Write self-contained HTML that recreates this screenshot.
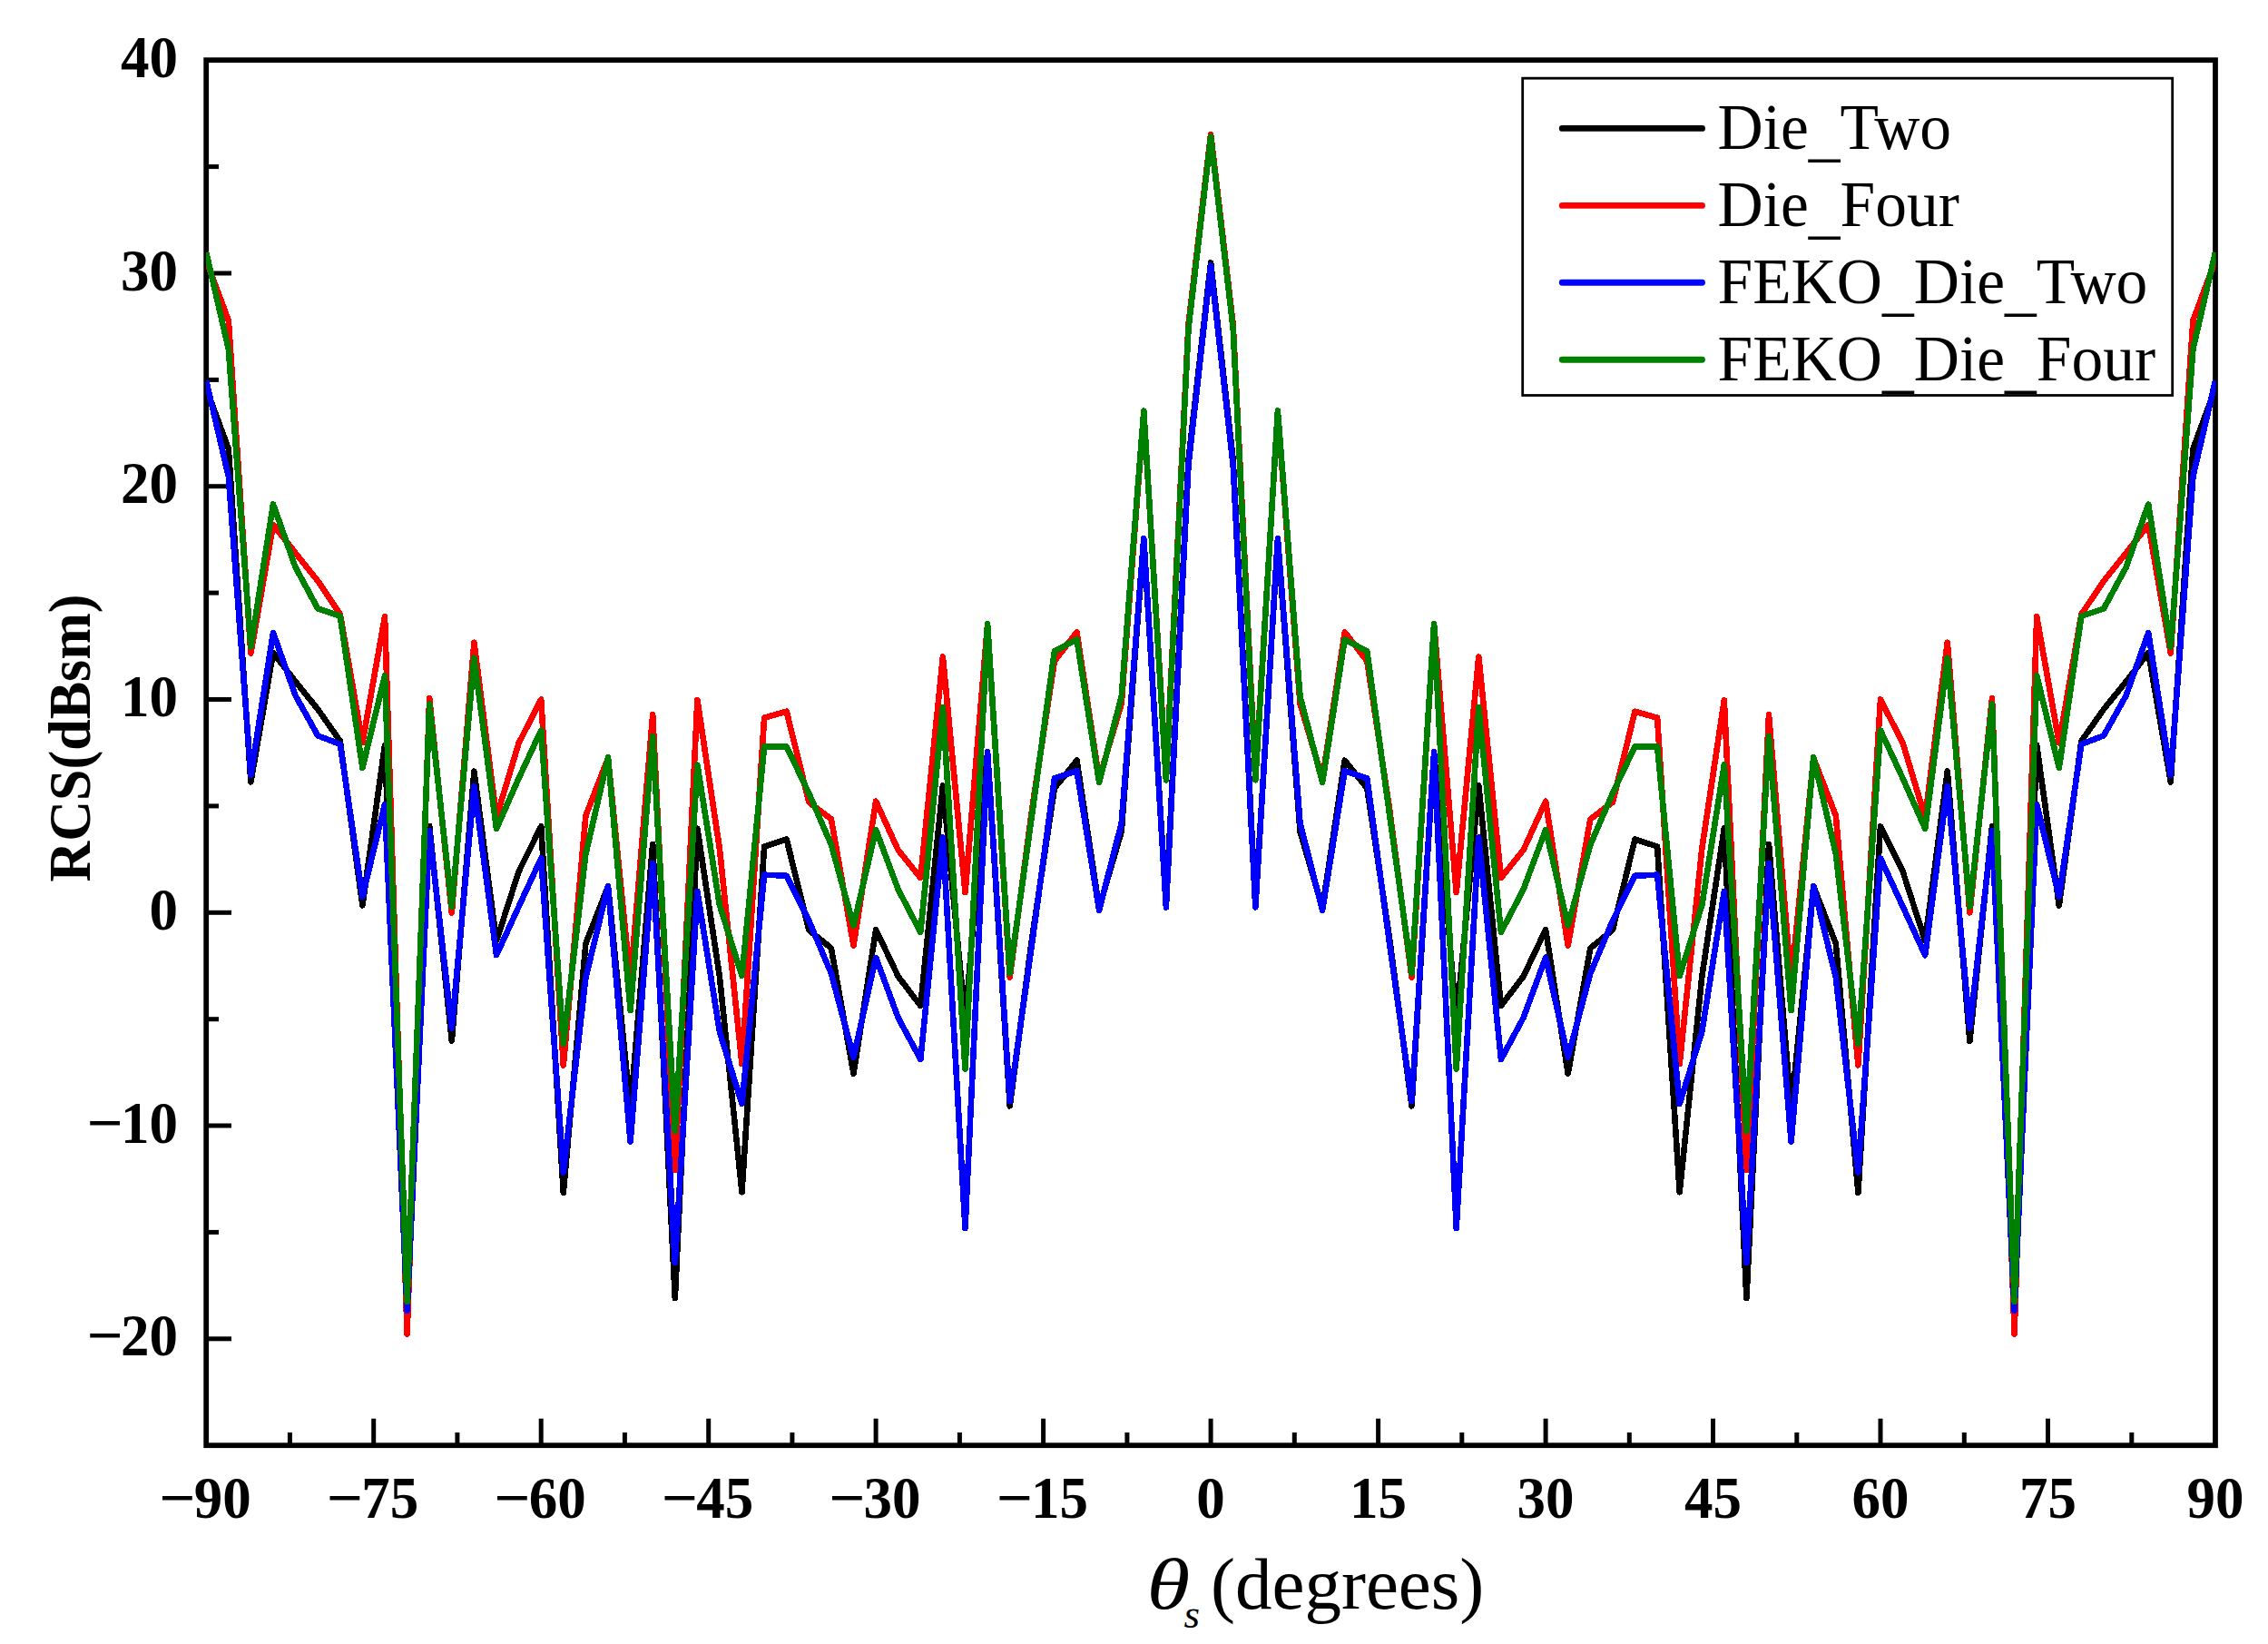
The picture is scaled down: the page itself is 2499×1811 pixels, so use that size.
<!DOCTYPE html>
<html lang="en"><head><meta charset="utf-8"><title>RCS comparison</title>
<style>html,body{margin:0;padding:0;background:#fff}svg{display:block}text{font-family:"Liberation Serif","Times New Roman",serif;fill:#000}</style></head>
<body>
<svg width="2499" height="1811" viewBox="0 0 2499 1811">
<rect x="0" y="0" width="2499" height="1811" fill="#ffffff"/>
<rect x="227.2" y="66.2" width="2213.8" height="1526.0" fill="none" stroke="#000" stroke-width="5.8"/>
<g stroke="#000" stroke-width="5.0" fill="none">
<line x1="319.4" y1="1592.2" x2="319.4" y2="1578.0"/>
<line x1="411.7" y1="1592.2" x2="411.7" y2="1562.7"/>
<line x1="503.9" y1="1592.2" x2="503.9" y2="1578.0"/>
<line x1="596.2" y1="1592.2" x2="596.2" y2="1562.7"/>
<line x1="688.4" y1="1592.2" x2="688.4" y2="1578.0"/>
<line x1="780.7" y1="1592.2" x2="780.7" y2="1562.7"/>
<line x1="872.9" y1="1592.2" x2="872.9" y2="1578.0"/>
<line x1="965.1" y1="1592.2" x2="965.1" y2="1562.7"/>
<line x1="1057.4" y1="1592.2" x2="1057.4" y2="1578.0"/>
<line x1="1149.6" y1="1592.2" x2="1149.6" y2="1562.7"/>
<line x1="1241.9" y1="1592.2" x2="1241.9" y2="1578.0"/>
<line x1="1334.1" y1="1592.2" x2="1334.1" y2="1562.7"/>
<line x1="1426.3" y1="1592.2" x2="1426.3" y2="1578.0"/>
<line x1="1518.6" y1="1592.2" x2="1518.6" y2="1562.7"/>
<line x1="1610.8" y1="1592.2" x2="1610.8" y2="1578.0"/>
<line x1="1703.1" y1="1592.2" x2="1703.1" y2="1562.7"/>
<line x1="1795.3" y1="1592.2" x2="1795.3" y2="1578.0"/>
<line x1="1887.5" y1="1592.2" x2="1887.5" y2="1562.7"/>
<line x1="1979.8" y1="1592.2" x2="1979.8" y2="1578.0"/>
<line x1="2072.0" y1="1592.2" x2="2072.0" y2="1562.7"/>
<line x1="2164.3" y1="1592.2" x2="2164.3" y2="1578.0"/>
<line x1="2256.5" y1="1592.2" x2="2256.5" y2="1562.7"/>
<line x1="2348.8" y1="1592.2" x2="2348.8" y2="1578.0"/>
<line x1="227.2" y1="1474.8" x2="255" y2="1474.8"/>
<line x1="227.2" y1="1357.4" x2="241" y2="1357.4"/>
<line x1="227.2" y1="1240.0" x2="255" y2="1240.0"/>
<line x1="227.2" y1="1122.7" x2="241" y2="1122.7"/>
<line x1="227.2" y1="1005.3" x2="255" y2="1005.3"/>
<line x1="227.2" y1="887.9" x2="241" y2="887.9"/>
<line x1="227.2" y1="770.5" x2="255" y2="770.5"/>
<line x1="227.2" y1="653.1" x2="241" y2="653.1"/>
<line x1="227.2" y1="535.7" x2="255" y2="535.7"/>
<line x1="227.2" y1="418.4" x2="241" y2="418.4"/>
<line x1="227.2" y1="301.0" x2="255" y2="301.0"/>
<line x1="227.2" y1="183.6" x2="241" y2="183.6"/>
</g>
<defs><clipPath id="pc"><rect x="226.9" y="60" width="2214.7" height="1535"/></clipPath></defs>
<g fill="none" stroke-width="6.6" stroke-linejoin="round" stroke-linecap="butt" clip-path="url(#pc)" shape-rendering="crispEdges">
<polyline stroke="#000000" points="227.2,427.7 251.8,494.4 276.4,861.4 301.0,719.1 325.6,750.8 350.2,781.3 374.8,816.3 399.4,997.5 424.0,821.0 448.6,1438.0 473.2,910.0 497.8,1146.8 522.4,849.6 547.0,1036.5 571.6,960.0 596.2,910.4 620.8,1313.8 645.4,1039.3 670.0,976.4 694.6,1222.0 719.2,929.9 743.8,1430.2 768.4,912.5 792.9,1075.7 817.5,1313.3 842.1,932.5 866.7,924.5 891.3,1024.5 915.9,1044.5 940.5,1182.8 965.1,1024.1 989.7,1075.7 1014.3,1107.9 1038.9,865.4 1063.5,1124.8 1088.1,829.0 1112.7,1218.4 1137.3,1032.3 1161.9,868.2 1186.5,837.7 1211.1,1000.1 1235.7,916.1 1260.3,594.9 1284.9,996.6 1309.5,506.4 1334.1,289.5 1358.7,506.4 1383.3,996.6 1407.9,594.9 1432.5,916.1 1457.1,1000.1 1481.7,837.7 1506.3,868.2 1530.9,1032.3 1555.5,1218.4 1580.1,829.0 1604.7,1124.8 1629.3,865.4 1653.9,1107.9 1678.5,1075.7 1703.1,1024.1 1727.7,1182.8 1752.3,1044.5 1776.9,1024.5 1801.5,924.5 1826.1,932.5 1850.7,1313.3 1875.3,1075.7 1899.8,912.5 1924.4,1430.2 1949.0,929.9 1973.6,1222.0 1998.2,976.4 2022.8,1039.3 2047.4,1313.8 2072.0,910.4 2096.6,960.0 2121.2,1036.5 2145.8,849.6 2170.4,1146.8 2195.0,910.0 2219.6,1438.0 2244.2,821.0 2268.8,997.5 2293.4,816.3 2318.0,781.3 2342.6,750.8 2367.2,719.1 2391.8,861.4 2416.4,494.4 2441.0,427.7"/>
<polyline stroke="#ff0000" points="227.2,286.9 251.8,353.1 276.4,719.6 301.0,578.0 325.6,609.2 350.2,640.0 374.8,676.6 399.4,818.2 424.0,679.2 448.6,1469.7 473.2,769.3 497.8,1005.5 522.4,707.8 547.0,900.3 571.6,818.6 596.2,770.5 620.8,1173.4 645.4,898.5 670.0,835.1 694.6,1081.1 719.2,787.4 743.8,1288.9 768.4,771.2 792.9,934.8 817.5,1172.2 842.1,790.7 866.7,783.7 891.3,883.7 915.9,902.4 940.5,1041.7 965.1,882.7 989.7,936.5 1014.3,967.0 1038.9,723.6 1063.5,983.0 1088.1,687.6 1112.7,1076.6 1137.3,890.2 1161.9,728.2 1186.5,696.3 1211.1,858.1 1235.7,775.2 1260.3,454.0 1284.9,855.7 1309.5,357.3 1334.1,148.1 1358.7,357.3 1383.3,855.7 1407.9,454.0 1432.5,775.2 1457.1,858.1 1481.7,696.3 1506.3,728.2 1530.9,890.2 1555.5,1076.6 1580.1,687.6 1604.7,983.0 1629.3,723.6 1653.9,967.0 1678.5,936.5 1703.1,882.7 1727.7,1041.7 1752.3,902.4 1776.9,883.7 1801.5,783.7 1826.1,790.7 1850.7,1172.2 1875.3,934.8 1899.8,771.2 1924.4,1288.9 1949.0,787.4 1973.6,1081.1 1998.2,835.1 2022.8,898.5 2047.4,1173.4 2072.0,770.5 2096.6,818.6 2121.2,900.3 2145.8,707.8 2170.4,1005.5 2195.0,769.3 2219.6,1469.7 2244.2,679.2 2268.8,818.2 2293.4,676.6 2318.0,640.0 2342.6,609.2 2367.2,578.0 2391.8,719.6 2416.4,353.1 2441.0,286.9"/>
<polyline stroke="#0000ff" points="227.2,419.5 251.8,524.9 276.4,853.9 301.0,697.0 325.6,766.3 350.2,810.4 374.8,819.8 399.4,987.7 424.0,886.0 448.6,1443.8 473.2,915.4 497.8,1132.5 522.4,866.1 547.0,1052.2 571.6,998.7 596.2,945.4 620.8,1291.5 645.4,1076.9 670.0,975.9 694.6,1257.7 719.2,951.3 743.8,1391.2 768.4,982.0 792.9,1136.7 817.5,1215.9 842.1,963.7 866.7,964.7 891.3,1014.2 915.9,1072.4 940.5,1164.7 965.1,1054.8 989.7,1121.3 1014.3,1167.0 1038.9,922.6 1063.5,1353.0 1088.1,828.3 1112.7,1213.3 1137.3,1038.1 1161.9,857.4 1186.5,849.2 1211.1,1002.7 1235.7,906.7 1260.3,593.3 1284.9,999.4 1309.5,512.3 1334.1,292.5 1358.7,512.3 1383.3,999.4 1407.9,593.3 1432.5,906.7 1457.1,1002.7 1481.7,849.2 1506.3,857.4 1530.9,1038.1 1555.5,1213.3 1580.1,828.3 1604.7,1353.0 1629.3,922.6 1653.9,1167.0 1678.5,1121.3 1703.1,1054.8 1727.7,1164.7 1752.3,1072.4 1776.9,1014.2 1801.5,964.7 1826.1,963.7 1850.7,1215.9 1875.3,1136.7 1899.8,982.0 1924.4,1391.2 1949.0,951.3 1973.6,1257.7 1998.2,975.9 2022.8,1076.9 2047.4,1291.5 2072.0,945.4 2096.6,998.7 2121.2,1052.2 2145.8,866.1 2170.4,1132.5 2195.0,915.4 2219.6,1443.8 2244.2,886.0 2268.8,987.7 2293.4,819.8 2318.0,810.4 2342.6,766.3 2367.2,697.0 2391.8,853.9 2416.4,524.9 2441.0,419.5"/>
<polyline stroke="#008000" points="227.2,278.0 251.8,384.5 276.4,712.5 301.0,555.5 325.6,625.0 350.2,670.5 374.8,678.7 399.4,845.9 424.0,744.2 448.6,1434.0 473.2,775.7 497.8,998.9 522.4,724.7 547.0,912.8 571.6,857.4 596.2,804.5 620.8,1150.1 645.4,940.7 670.0,834.1 694.6,1113.0 719.2,811.1 743.8,1245.9 768.4,842.6 792.9,997.1 817.5,1075.0 842.1,822.4 866.7,822.4 891.3,873.8 915.9,930.6 940.5,1019.6 965.1,914.0 989.7,979.9 1014.3,1026.9 1038.9,779.4 1063.5,1177.6 1088.1,687.2 1112.7,1072.2 1137.3,896.1 1161.9,717.4 1186.5,704.3 1211.1,861.8 1235.7,767.2 1260.3,452.6 1284.9,859.3 1309.5,362.0 1334.1,150.7 1358.7,362.0 1383.3,859.3 1407.9,452.6 1432.5,767.2 1457.1,861.8 1481.7,704.3 1506.3,717.4 1530.9,896.1 1555.5,1072.2 1580.1,687.2 1604.7,1177.6 1629.3,779.4 1653.9,1026.9 1678.5,979.9 1703.1,914.0 1727.7,1019.6 1752.3,930.6 1776.9,873.8 1801.5,822.4 1826.1,822.4 1850.7,1075.0 1875.3,997.1 1899.8,842.6 1924.4,1245.9 1949.0,811.1 1973.6,1113.0 1998.2,834.1 2022.8,940.7 2047.4,1150.1 2072.0,804.5 2096.6,857.4 2121.2,912.8 2145.8,724.7 2170.4,998.9 2195.0,775.7 2219.6,1434.0 2244.2,744.2 2268.8,845.9 2293.4,678.7 2318.0,670.5 2342.6,625.0 2367.2,555.5 2391.8,712.5 2416.4,384.5 2441.0,278.0"/>
</g>
<g font-weight="bold" font-size="63px">
<text transform="translate(175.3,1671.5) scale(1.12,1.045)">−</text>
<text transform="translate(213.7,1671.5) scale(1,1.045)">90</text>
<text transform="translate(359.8,1671.5) scale(1.12,1.045)">−</text>
<text transform="translate(398.2,1671.5) scale(1,1.045)">75</text>
<text transform="translate(544.3,1671.5) scale(1.12,1.045)">−</text>
<text transform="translate(582.7,1671.5) scale(1,1.045)">60</text>
<text transform="translate(728.8,1671.5) scale(1.12,1.045)">−</text>
<text transform="translate(767.2,1671.5) scale(1,1.045)">45</text>
<text transform="translate(913.2,1671.5) scale(1.12,1.045)">−</text>
<text transform="translate(951.6,1671.5) scale(1,1.045)">30</text>
<text transform="translate(1097.7,1671.5) scale(1.12,1.045)">−</text>
<text transform="translate(1136.1,1671.5) scale(1,1.045)">15</text>
<text transform="translate(1334.1,1671.5) scale(1,1.045)" text-anchor="middle">0</text>
<text transform="translate(1518.6,1671.5) scale(1,1.045)" text-anchor="middle">15</text>
<text transform="translate(1703.1,1671.5) scale(1,1.045)" text-anchor="middle">30</text>
<text transform="translate(1887.5,1671.5) scale(1,1.045)" text-anchor="middle">45</text>
<text transform="translate(2072.0,1671.5) scale(1,1.045)" text-anchor="middle">60</text>
<text transform="translate(2256.5,1671.5) scale(1,1.045)" text-anchor="middle">75</text>
<text transform="translate(2441.0,1671.5) scale(1,1.045)" text-anchor="middle">90</text>
<text transform="translate(196,1493.3) scale(1,1.045)" text-anchor="end">20</text>
<text transform="translate(95.6,1493.3) scale(1.12,1.045)">−</text>
<text transform="translate(196,1258.5) scale(1,1.045)" text-anchor="end">10</text>
<text transform="translate(95.6,1258.5) scale(1.12,1.045)">−</text>
<text transform="translate(196,1023.8) scale(1,1.045)" text-anchor="end">0</text>
<text transform="translate(196,789.0) scale(1,1.045)" text-anchor="end">10</text>
<text transform="translate(196,554.2) scale(1,1.045)" text-anchor="end">20</text>
<text transform="translate(196,319.5) scale(1,1.045)" text-anchor="end">30</text>
<text transform="translate(196,84.7) scale(1,1.045)" text-anchor="end">40</text>
</g>
<text transform="translate(98.5,813) rotate(-90) scale(1,1.05)" text-anchor="middle" font-weight="bold" font-size="62px">RCS(dBsm)</text>
<text transform="translate(1263.5,1772.4) scale(1.2,1)" font-size="81px" font-style="italic">θ</text>
<text x="1304.5" y="1793.4" font-size="45px" font-style="italic">s</text>
<text x="1334" y="1772.4" font-size="81px">(degrees)</text>
<rect x="1677.7" y="86.2" width="716" height="349.3" fill="#fff" stroke="#000" stroke-width="2.8"/>
<line x1="1721.3" y1="141.4" x2="1875.5" y2="141.4" stroke="#000000" stroke-width="6.9" stroke-linecap="round"/>
<text transform="translate(1892.5,163.6) scale(1,1.025)" font-size="69.5px">Die<tspan dy="6">_</tspan><tspan dy="-6">Two</tspan></text>
<line x1="1721.3" y1="226.4" x2="1875.5" y2="226.4" stroke="#ff0000" stroke-width="6.9" stroke-linecap="round"/>
<text transform="translate(1892.5,248.7) scale(1,1.025)" font-size="69.5px">Die<tspan dy="6">_</tspan><tspan dy="-6">Four</tspan></text>
<line x1="1721.3" y1="311.3" x2="1875.5" y2="311.3" stroke="#0000ff" stroke-width="6.9" stroke-linecap="round"/>
<text transform="translate(1892.5,333.8) scale(1,1.025)" font-size="69.5px">FEKO<tspan dy="6">_</tspan><tspan dy="-6">Die</tspan><tspan dy="6">_</tspan><tspan dy="-6">Two</tspan></text>
<line x1="1721.3" y1="396.2" x2="1875.5" y2="396.2" stroke="#008000" stroke-width="6.9" stroke-linecap="round"/>
<text transform="translate(1892.5,418.9) scale(1,1.025)" font-size="69.5px">FEKO<tspan dy="6">_</tspan><tspan dy="-6">Die</tspan><tspan dy="6">_</tspan><tspan dy="-6">Four</tspan></text>
</svg>
</body></html>
